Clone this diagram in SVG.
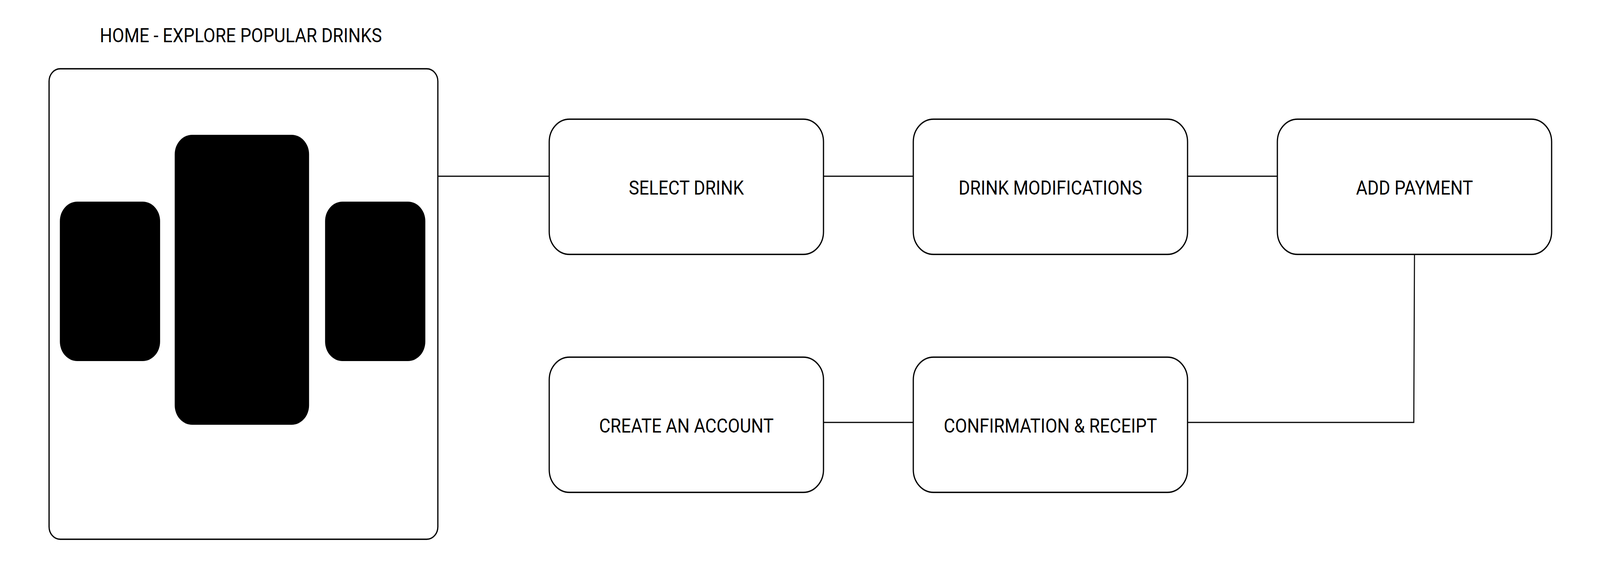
<svg xmlns="http://www.w3.org/2000/svg" width="4597" height="1451" viewBox="0 0 4597 1451" preserveAspectRatio="none">
  <style>
    :root { width: 100vw; height: 100vh; max-width: 4597px; max-height: 1451px; }
    .lbl { font-family: Roboto, "Liberation Sans", sans-serif; font-size: 50px; fill: #000; text-anchor: middle; }
    .node { fill: #fff; stroke: #000; stroke-width: 3.5; }
    .card { fill: #000; stroke: none; }
    .conn { fill: none; stroke: #000; stroke-width: 3; }
  </style>
  <rect width="4597" height="1451" fill="#fff"/>

  <g id="home">
    <text class="lbl" x="692" y="108">HOME - EXPLORE POPULAR DRINKS</text>
    <rect class="node" x="141" y="176" width="1117" height="1204" rx="32" ry="32" stroke-width="4"/>
    <rect class="card" x="172" y="516" width="288" height="408" rx="50" ry="50"/>
    <rect class="card" x="502" y="345" width="386" height="742" rx="50" ry="50"/>
    <rect class="card" x="934" y="516" width="288" height="408" rx="50" ry="50"/>
  </g>

  <g id="connectors">
    <path class="conn" d="M1258 451 H1578"/>
    <path class="conn" d="M2366 451 H2624"/>
    <path class="conn" d="M3412 451 H3670"/>
    <path class="conn" d="M4064 651 L4062 1081 H3412"/>
    <path class="conn" d="M2366 1081 H2624"/>
  </g>

  <g id="select-drink">
    <rect class="node" x="1578" y="305" width="788" height="346" rx="58" ry="58"/>
    <text class="lbl" x="1972" y="498">SELECT DRINK</text>
  </g>
  <g id="drink-modifications">
    <rect class="node" x="2624" y="305" width="788" height="346" rx="58" ry="58"/>
    <text class="lbl" x="3018" y="498">DRINK MODIFICATIONS</text>
  </g>
  <g id="add-payment">
    <rect class="node" x="3670" y="305" width="788" height="346" rx="58" ry="58"/>
    <text class="lbl" x="4064" y="498">ADD PAYMENT</text>
  </g>
  <g id="create-account">
    <rect class="node" x="1578" y="914" width="788" height="346" rx="58" ry="58"/>
    <text class="lbl" x="1972" y="1107">CREATE AN ACCOUNT</text>
  </g>
  <g id="confirmation-receipt">
    <rect class="node" x="2624" y="914" width="788" height="346" rx="58" ry="58"/>
    <text class="lbl" x="3018" y="1107">CONFIRMATION &amp; RECEIPT</text>
  </g>
</svg>
